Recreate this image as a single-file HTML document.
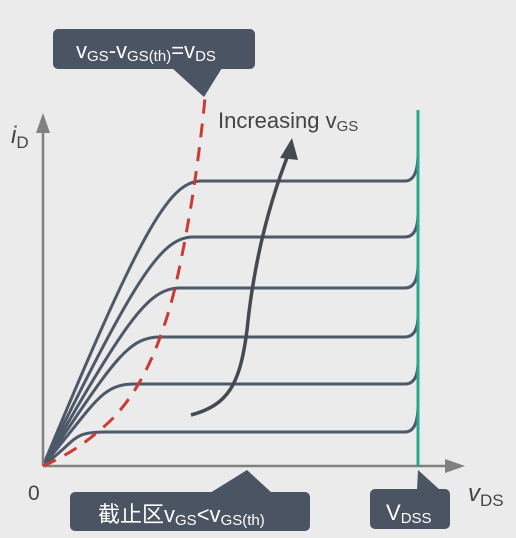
<!DOCTYPE html>
<html><head><meta charset="utf-8"><style>
body{margin:0;background:#ebebeb;}
svg{display:block;font-family:"Liberation Sans","Noto Sans CJK SC",sans-serif;}
</style></head><body>
<svg width="516" height="538" viewBox="0 0 516 538">
<rect width="516" height="538" fill="#ebebeb"/>
<g id="curves"></g>
<line x1="43" y1="466" x2="43" y2="128" stroke="#808080" stroke-width="2.5"/>
<polygon points="43,113 36,133 50,133" fill="#808080"/>
<line x1="43" y1="466" x2="448" y2="466" stroke="#808080" stroke-width="2.5"/>
<polygon points="465,466 445,459 445,473" fill="#808080"/>
<line x1="418" y1="110" x2="418" y2="466" stroke="#26a98f" stroke-width="3"/>
<path d="M43,466 Q75,452 100,430 Q150,390 175,288 Q195,200 205,98" fill="none" stroke="#cc3b33" stroke-width="3" stroke-dasharray="14,10"/>
<path d="M191,415 C228,405 240,385 247,330 C254,260 270,200 290,150" fill="none" stroke="#444a50" stroke-width="3.5"/>
<polygon points="292,138 280,158 298,160" fill="#444a50"/>
<text x="218" y="128" font-size="22" fill="#444">Increasing v<tspan font-size="15" dy="3">GS</tspan></text>
<text x="11" y="143" font-size="24" font-style="italic" fill="#444">i<tspan font-style="normal" font-size="17" dy="5">D</tspan></text>
<text x="28" y="500" font-size="21" fill="#444">0</text>
<text x="468" y="501" font-size="24" font-style="italic" fill="#444">v<tspan font-style="normal" font-size="17" dy="5">DS</tspan></text>
<g>
<rect x="53" y="29" width="202" height="40" rx="5" fill="#4a5462"/>
<polygon points="172,68 222,68 204,97" fill="#4a5462"/>
<text x="76" y="58" font-size="22" fill="#fff">v<tspan font-size="15" dy="3">GS</tspan><tspan dy="-3">-v</tspan><tspan font-size="15" dy="3">GS(th)</tspan><tspan dy="-3">=v</tspan><tspan font-size="15" dy="3">DS</tspan></text>
</g>
<g>
<rect x="70" y="492" width="240" height="39" rx="5" fill="#4a5462"/>
<polygon points="210,493 247,470 272,493" fill="#4a5462"/>
<text x="98" y="522" font-size="22" fill="#fff">截止区v<tspan font-size="15" dy="3">GS</tspan><tspan dy="-3">&lt;v</tspan><tspan font-size="15" dy="3">GS(th)</tspan></text>
</g>
<g>
<rect x="370" y="489" width="80" height="40" rx="5" fill="#4a5462"/>
<polygon points="417,490 418,470 440,490" fill="#4a5462"/>
<text x="386" y="520" font-size="22" fill="#fff">V<tspan font-size="15" dy="3">DSS</tspan></text>
</g>
</svg>
<script>
const plateauCurrent = [432, 384, 337, 288, 237, 181];
const kneeX = [100, 130, 155, 175, 188, 196];
const riseAtEnd = [27, 22, 22, 24, 24, 28];
const g = document.getElementById('curves');
const ox = 43, oy = 466, endX = 405, wallX = 418;
plateauCurrent.forEach((y, i) => {
  const kx = kneeX[i];
  const c1x = ox + (kx - ox) * 0.62, c1y = oy + (y - oy) * 0.8;
  const d = `M${ox},${oy} C${c1x},${c1y} ${kx - 28},${y} ${kx + 5},${y} L${endX},${y} Q${wallX},${y} ${wallX},${y - riseAtEnd[i]}`;
  const p = document.createElementNS('http://www.w3.org/2000/svg', 'path');
  p.setAttribute('d', d);
  p.setAttribute('fill', 'none');
  p.setAttribute('stroke', '#4d5868');
  p.setAttribute('stroke-width', '3');
  
  
  g.appendChild(p);
});
</script>
</body></html>
